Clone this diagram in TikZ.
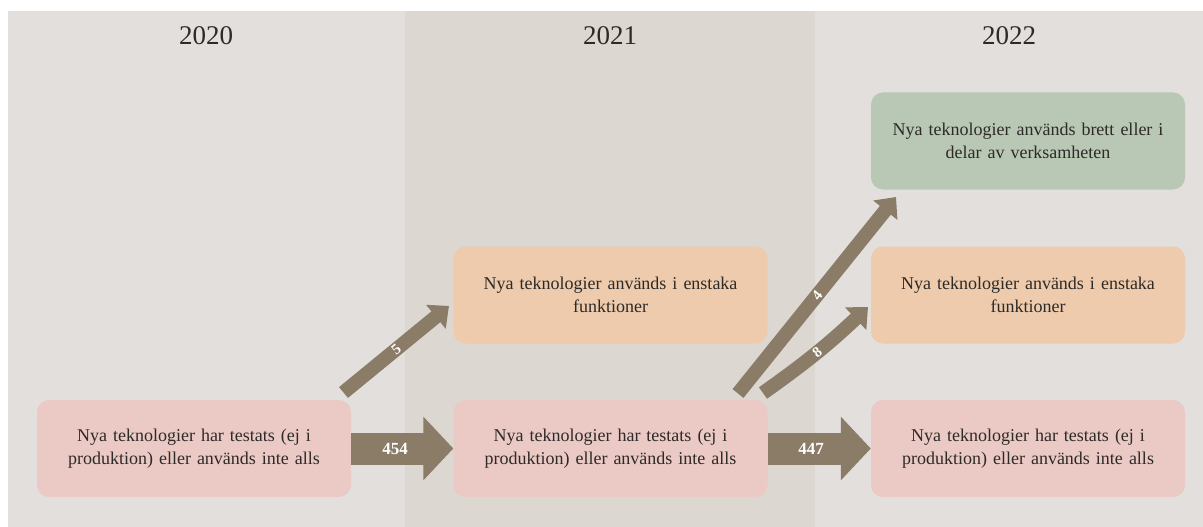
\documentclass[tikz,border=0pt]{standalone}
\usepackage{fontspec}
\setmainfont{Liberation Serif}
\usetikzlibrary{arrows.meta}
\definecolor{bgA}{HTML}{E2DFDC}
\definecolor{bgB}{HTML}{DCD7D1}
\definecolor{pinkbox}{HTML}{EBC9C5}
\definecolor{orangebox}{HTML}{EDCBAC}
\definecolor{greenbox}{HTML}{B8C8B5}
\definecolor{flow}{HTML}{8A7C67}
\definecolor{txt}{HTML}{2E2A27}
\begin{document}
\begin{tikzpicture}[x=1pt,y=-1pt,
 box/.style={rounded corners=12pt, minimum width=314pt, minimum height=97pt, align=center, text width=300pt, font=\fontsize{18}{23}\selectfont, text=txt, inner sep=0pt},
 year/.style={font=\fontsize{27}{30}\selectfont, text=txt, inner sep=0pt},
 bigflow/.style={draw=flow, line width=32pt, -{Triangle[length=30pt,width=62pt]}},
 smallflow/.style={draw=flow, line width=14pt, -{Triangle[length=17pt,width=30pt]}},
 numlbl/.style={text=white, font=\fontsize{17}{17}\selectfont\bfseries, inner sep=0pt},
 smlbl/.style={text=white, font=\fontsize{15}{15}\selectfont\bfseries, inner sep=0pt, sloped},
]
\useasboundingbox (0,0) rectangle (1203,527);
\fill[white] (0,0) rectangle (1203,527);
\fill[bgA] (8,11) rectangle (1203,527);
\fill[bgB] (405,11) rectangle (815,527);

\node[year] (y20) at (206,36) {2020};
\node[year] (y21) at (610,36) {2021};
\node[year] (y22) at (1009,36) {2022};

\node[box, fill=pinkbox] (a20) at (194,448.5) {Nya teknologier har testats (ej i\\produktion) eller används inte alls};
\node[box, fill=pinkbox] (a21) at (610.5,448.5) {Nya teknologier har testats (ej i\\produktion) eller används inte alls};
\node[box, fill=pinkbox] (a22) at (1028,448.5) {Nya teknologier har testats (ej i\\produktion) eller används inte alls};
\node[box, fill=orangebox] (b21) at (610.5,295) {Nya teknologier används i enstaka\\funktioner};
\node[box, fill=orangebox] (b22) at (1028,295) {Nya teknologier används i enstaka\\funktioner};
\node[box, fill=greenbox] (c22) at (1028,141) {Nya teknologier används brett eller i\\delar av verksamheten};

\coordinate (t5) at (343.5,392.5);
\coordinate (h5) at (449,306);
\coordinate (t4) at (738,393.5);
\coordinate (h4) at (896,197);
\coordinate (t8) at (763,393);
\coordinate (h8) at (868,307);

\draw[bigflow] (a20.east) -- node[numlbl, pos=0.43]{454} (a21.west);
\draw[bigflow] (a21.east) -- node[numlbl, pos=0.42]{447} (a22.west);
\draw[smallflow] (t5) -- node[smlbl]{5} (h5);
\draw[smallflow] (t4) -- node[smlbl]{4} (h4);
\draw[smallflow] (t8) to[bend right=4] node[smlbl]{8} (h8);
\end{tikzpicture}
\end{document}
